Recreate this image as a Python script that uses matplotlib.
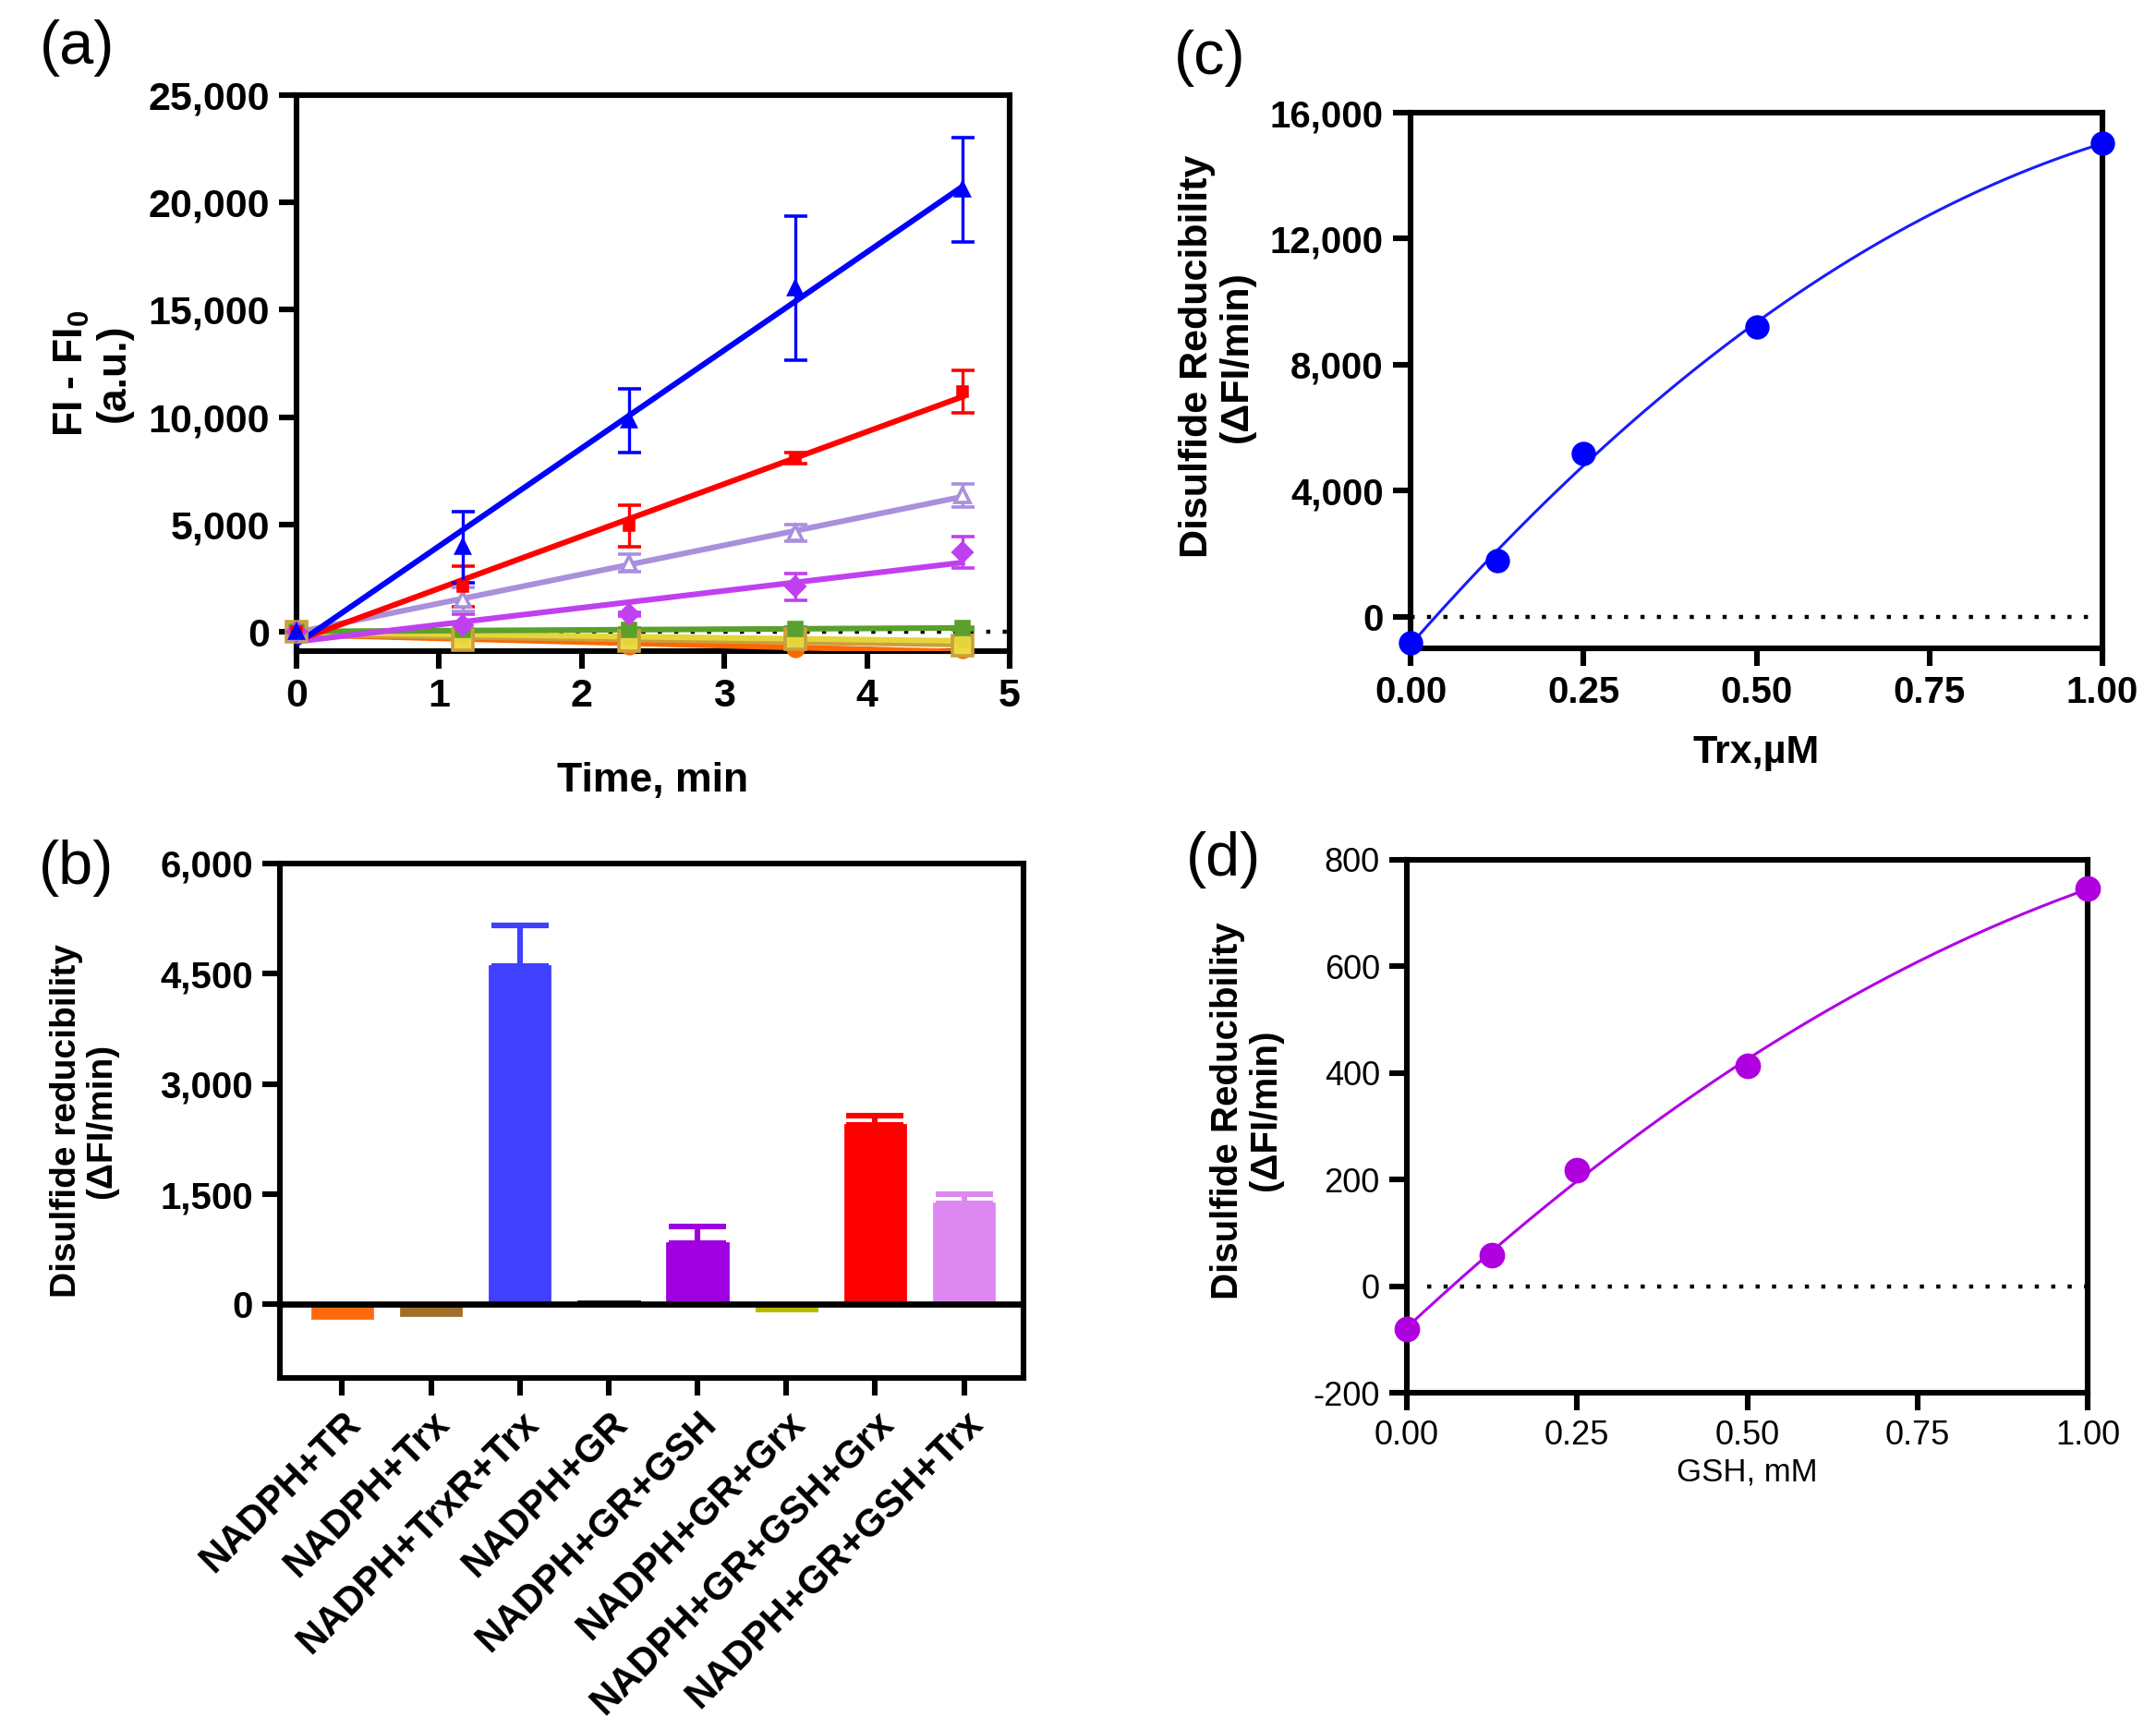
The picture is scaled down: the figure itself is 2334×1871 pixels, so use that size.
import numpy as np
import matplotlib
matplotlib.use("Agg")
import matplotlib.pyplot as plt
from matplotlib.ticker import FuncFormatter

plt.rcParams['font.family'] = ['Liberation Sans', 'DejaVu Sans']
plt.rcParams['mathtext.fontset'] = 'custom'
plt.rcParams['mathtext.rm'] = 'Liberation Sans'
plt.rcParams['mathtext.bf'] = 'Liberation Sans:bold'
plt.rcParams['axes.unicode_minus'] = False

# ---- panel (a): kinetics, FI - FI0 vs time ----
time_min = [0, 1.167, 2.333, 3.5, 4.667]
trxr_trx = [0, 3950, 9840, 16010, 20600]
trxr_trx_err = [0, 1650, 1470, 3350, 2420]
gr_gsh_grx = [0, 2100, 4930, 8100, 11200]
gr_gsh_grx_err = [0, 950, 970, 250, 980]
gr_gsh_trx = [0, 1500, 3200, 4600, 6350]
gr_gsh_trx_err = [0, 550, 400, 380, 520]
gr_gsh = [0, 300, 820, 2100, 3700]
gr_gsh_err = [0, 500, 100, 620, 720]
green_ctrl = [0, 70, 110, 140, 170]
green_ctrl_err = [0, 60, 60, 60, 60]
yellow_ctrl = [0, -150, -250, -330, -400]
olive_ctrl = [0, -400, -420, -330, -630]
orange_ctrl = [0, -420, -640, -780, -820]

# ---- panel (b): bars ----
conditions = ['NADPH+TR', 'NADPH+Trx', 'NADPH+TrxR+Trx', 'NADPH+GR',
              'NADPH+GR+GSH', 'NADPH+GR+Grx', 'NADPH+GR+GSH+Grx',
              'NADPH+GR+GSH+Trx']
rates = [-180, -140, 4610, 40, 830, -80, 2440, 1370]
rates_err = [0, 0, 550, 0, 230, 0, 125, 125]
bar_colors = ['#ff6a10', '#a0702a', '#4040ff', '#111111', '#a000e0',
              '#b8b800', '#ff0000', '#dd88f0']

# ---- panel (c): Trx titration ----
trx_um = [0, 0.125, 0.25, 0.5, 1.0]
trx_rate = [-820, 1780, 5180, 9200, 15040]

# ---- panel (d): GSH titration ----
gsh_mm = [0, 0.125, 0.25, 0.5, 1.0]
gsh_rate = [-81, 59, 218, 413, 747]

W, H = 2334, 1871
fig = plt.figure(figsize=(W / 200, H / 200), dpi=200)


def px_axes(l, r, t, b):
    return fig.add_axes([l / W, 1 - b / H, (r - l) / W, (b - t) / H])


def style_axes(ax, size, weight='bold'):
    for s in ax.spines.values():
        s.set_linewidth(2.2)
    ax.tick_params(direction='out', length=7, width=2.2, pad=3.5,
                   labelsize=size)
    for lab in ax.get_xticklabels() + ax.get_yticklabels():
        lab.set_fontweight(weight)


comma = FuncFormatter(lambda v, p: f"{v:,.0f}")
two_dec = FuncFormatter(lambda v, p: f"{v:.2f}")

# (a)
ax = px_axes(321, 1093, 103, 705)
ax.plot([0, 5], [0, 0], color='black', lw=1.6, ls=(0, (1, 3)), zorder=1)
series_a = [
    (orange_ctrl, None, '#ff6600', 'o', '#ff6600', 6),
    (olive_ctrl, None, '#c8a03c', 's', '#f0d840', 8),
    (yellow_ctrl, None, '#e6d43c', 'o', '#e6d43c', 5),
    (green_ctrl, green_ctrl_err, '#5aa02c', 's', '#5aa02c', 5),
    (gr_gsh, gr_gsh_err, '#c040f0', 'D', '#c040f0', 5),
    (gr_gsh_trx, gr_gsh_trx_err, '#a98fdc', '^', 'white', 6),
    (gr_gsh_grx, gr_gsh_grx_err, '#ff0000', 's', '#ff0000', 3.5),
    (trxr_trx, trxr_trx_err, '#0000ff', '^', '#0000ff', 5),
]
t = np.array(time_min)
for vals, err, col, mk, fc, ms in series_a:
    y = np.array(vals)
    k, b0 = np.polyfit(t, y, 1)
    ax.plot([t[0], t[-1]], [b0, b0 + k * t[-1]], color=col, lw=2.2, zorder=3)
    ax.errorbar(t, y, yerr=err, fmt=mk, color=col, mfc=fc, mec=col, ms=ms,
                mew=1.3, elinewidth=1.2, capsize=4.5, capthick=1.2,
                zorder=4, clip_on=False)
ax.set_xlim(0, 5)
ax.set_ylim(-900, 25000)
ax.set_xticks(range(6))
ax.set_yticks(range(0, 25001, 5000))
ax.yaxis.set_major_formatter(comma)
style_axes(ax, 15.5)
ax.set_xlabel('Time, min', fontsize=16, fontweight='bold')
ax.xaxis.set_label_coords(0.5, -0.2)
ax.set_ylabel('FI - FI$_\\mathbf{0}$\n(a.u.)', fontsize=16,
              fontweight='bold', linespacing=1.1)
ax.yaxis.set_label_coords(-0.23, 0.5)

# (b)
ax = px_axes(303, 1108, 935, 1492)
xpos = np.arange(len(conditions))
ax.bar(xpos, rates, width=0.68, color=bar_colors, edgecolor=bar_colors,
       lw=1, zorder=2)
for i in range(len(rates)):
    if rates_err[i] > 0:
        ax.errorbar(xpos[i], rates[i], yerr=[[0], [rates_err[i]]], fmt='none',
                    ecolor=bar_colors[i], elinewidth=2.2, capsize=11,
                    capthick=2.2, zorder=3)
ax.axhline(0, color='black', lw=2.4, zorder=4)
ax.set_xlim(-0.7, 7.67)
ax.set_ylim(-1000, 6000)
ax.set_yticks(range(0, 6001, 1500))
ax.yaxis.set_major_formatter(comma)
ax.set_xticks(xpos)
ax.set_xticklabels(conditions, rotation=45, ha='right',
                   rotation_mode='anchor')
style_axes(ax, 14.5)
ax.tick_params(axis='x', labelsize=15)
ax.set_ylabel('Disulfide reducibility\n(\u0394FI/min)', fontsize=14,
              fontweight='bold', linespacing=1.1)
ax.yaxis.set_label_coords(-0.217, 0.5)

# (c)
ax = px_axes(1527, 2276, 122, 702)
xc = np.linspace(0, 1, 200)
ax.plot([0, 1], [0, 0], color='black', lw=1.6, ls=(0, (1, 3)), zorder=1)
pc = np.polyfit(trx_um, trx_rate, 2)
ax.plot(xc, np.polyval(pc, xc), color='#1a1aff', lw=1.1, zorder=2)
ax.plot(trx_um, trx_rate, 'o', color='#0000ff', ms=8.5, zorder=3,
        clip_on=False)
ax.set_xlim(0, 1)
ax.set_ylim(-1000, 16000)
ax.set_xticks([0, 0.25, 0.5, 0.75, 1.0])
ax.xaxis.set_major_formatter(two_dec)
ax.set_yticks(range(0, 16001, 4000))
ax.yaxis.set_major_formatter(comma)
style_axes(ax, 14.5)
ax.set_xlabel('Trx,\u00b5M', fontsize=15.5, fontweight='bold')
ax.xaxis.set_label_coords(0.5, -0.16)
ax.set_ylabel('Disulfide Reducibility\n(\u0394FI/min)', fontsize=15.5,
              fontweight='bold', linespacing=1.1)
ax.yaxis.set_label_coords(-0.224, 0.545)

# (d)
ax = px_axes(1523, 2260, 931, 1508)
ax.plot([0.03, 1], [0, 0], color='black', lw=1.6, ls=(0, (1, 3)), zorder=1)
pd_ = np.polyfit(gsh_mm, gsh_rate, 2)
ax.plot(xc, np.polyval(pd_, xc), color='#b000e8', lw=1.1, zorder=2)
ax.plot(gsh_mm, gsh_rate, 'o', color='#b000e0', ms=9, zorder=3,
        clip_on=False)
ax.set_xlim(0, 1)
ax.set_ylim(-200, 800)
ax.set_xticks([0, 0.25, 0.5, 0.75, 1.0])
ax.xaxis.set_major_formatter(two_dec)
ax.set_yticks(range(-200, 801, 200))
style_axes(ax, 13, weight='normal')
ax.set_xlabel('GSH, mM', fontsize=12.5)
ax.xaxis.set_label_coords(0.5, -0.12)
ax.set_ylabel('Disulfide Reducibility\n(\u0394FI/min)', fontsize=14.5,
              fontweight='bold', linespacing=1.1)
ax.yaxis.set_label_coords(-0.182, 0.53)

# panel letters
for txt, x, y in [('(a)', 84, 52), ('(b)', 83, 940), ('(c)', 1310, 63),
                  ('(d)', 1325, 931)]:
    fig.text(x / W, 1 - y / H, txt, fontsize=24, ha='center', va='center')

fig.savefig('out.png', dpi=200)
